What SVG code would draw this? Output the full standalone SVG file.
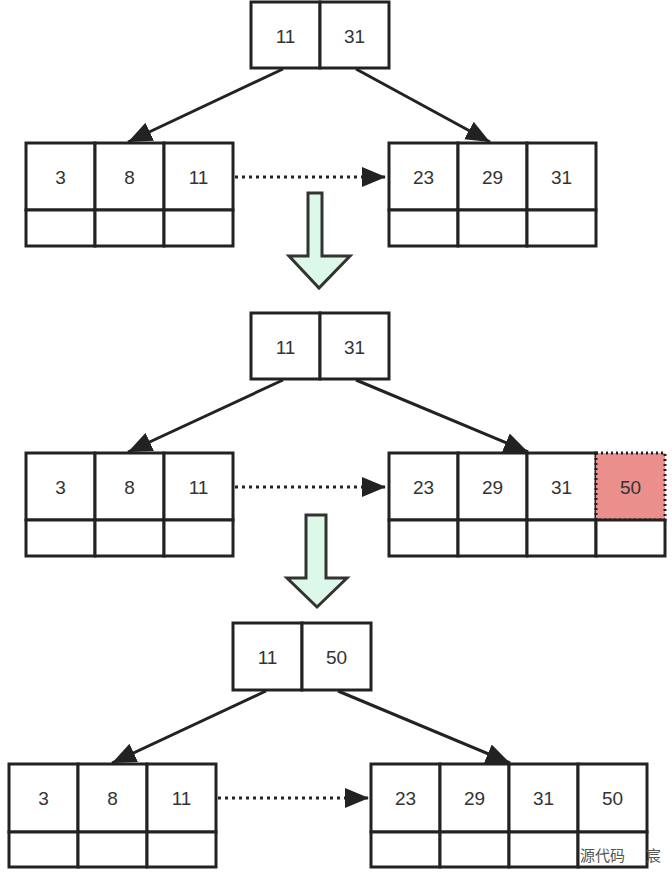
<svg xmlns="http://www.w3.org/2000/svg" width="672" height="874" viewBox="0 0 672 874">
<defs>
<style>
.c{fill:#fff;stroke:#222;stroke-width:3}
.t{font-family:"Liberation Sans",Arial,sans-serif;font-size:19px;fill:#333;text-anchor:middle;dominant-baseline:central}
.e{stroke:#222;stroke-width:3;fill:none}
.d{stroke:#222;stroke-width:3;stroke-dasharray:3 4;fill:none}
.g{fill:#dcf8e8;stroke:#333;stroke-width:3;stroke-linejoin:miter}
</style>
<marker id="a" markerWidth="10" markerHeight="10" refX="9" refY="5" orient="auto" markerUnits="userSpaceOnUse" viewBox="0 0 10 10"><path d="M0,0 L10,5 L0,10 z" fill="#222"/></marker>
<marker id="b" markerWidth="24" markerHeight="20" refX="24" refY="10" orient="auto" markerUnits="userSpaceOnUse"><path d="M0,0 L24,10 L0,20 z" fill="#222"/></marker>
</defs>
<rect width="672" height="874" fill="#fff"/>
<g id="root1"><rect class="c" x="251" y="2" width="69" height="66"/><rect class="c" x="320" y="2" width="69" height="66"/><text class="t" x="285.5" y="36">11</text><text class="t" x="354.5" y="36">31</text></g>
<g id="leafL1"><rect class="c" x="26" y="143" width="69" height="67"/><rect class="c" x="95" y="143" width="69" height="67"/><rect class="c" x="164" y="143" width="69" height="67"/><rect class="c" x="26" y="210" width="69" height="36"/><rect class="c" x="95" y="210" width="69" height="36"/><rect class="c" x="164" y="210" width="69" height="36"/><text class="t" x="60.5" y="177">3</text><text class="t" x="129.5" y="177">8</text><text class="t" x="198.5" y="177">11</text></g>
<g id="leafR1"><rect class="c" x="389" y="143" width="69" height="67"/><rect class="c" x="458" y="143" width="69" height="67"/><rect class="c" x="527" y="143" width="69" height="67"/><rect class="c" x="389" y="210" width="69" height="36"/><rect class="c" x="458" y="210" width="69" height="36"/><rect class="c" x="527" y="210" width="69" height="36"/><text class="t" x="423.5" y="177">23</text><text class="t" x="492.5" y="177">29</text><text class="t" x="561.5" y="177">31</text></g>
<g id="root2"><rect class="c" x="251" y="313" width="69" height="66"/><rect class="c" x="320" y="313" width="69" height="66"/><text class="t" x="285.5" y="347">11</text><text class="t" x="354.5" y="347">31</text></g>
<g id="leafL2"><rect class="c" x="26" y="453" width="69" height="67"/><rect class="c" x="95" y="453" width="69" height="67"/><rect class="c" x="164" y="453" width="69" height="67"/><rect class="c" x="26" y="520" width="69" height="36"/><rect class="c" x="95" y="520" width="69" height="36"/><rect class="c" x="164" y="520" width="69" height="36"/><text class="t" x="60.5" y="487">3</text><text class="t" x="129.5" y="487">8</text><text class="t" x="198.5" y="487">11</text></g>
<g id="leafR2"><rect class="c" x="389" y="453" width="69" height="67"/><rect class="c" x="458" y="453" width="69" height="67"/><rect class="c" x="527" y="453" width="69" height="67"/><rect x="596" y="453" width="69" height="67" fill="#ea8f8c" stroke="#222" stroke-width="3" stroke-dasharray="2 3"/><rect class="c" x="389" y="520" width="69" height="36"/><rect class="c" x="458" y="520" width="69" height="36"/><rect class="c" x="527" y="520" width="69" height="36"/><rect class="c" x="596" y="520" width="69" height="36"/><text class="t" x="423.5" y="487">23</text><text class="t" x="492.5" y="487">29</text><text class="t" x="561.5" y="487">31</text><text class="t" x="630.5" y="487">50</text></g>
<g id="root3"><rect class="c" x="233" y="623" width="69" height="67"/><rect class="c" x="302" y="623" width="69" height="67"/><text class="t" x="267.5" y="657">11</text><text class="t" x="336.5" y="657">50</text></g>
<g id="leafL3"><rect class="c" x="9" y="764" width="69" height="68"/><rect class="c" x="78" y="764" width="69" height="68"/><rect class="c" x="147" y="764" width="69" height="68"/><rect class="c" x="9" y="832" width="69" height="35"/><rect class="c" x="78" y="832" width="69" height="35"/><rect class="c" x="147" y="832" width="69" height="35"/><text class="t" x="43.5" y="798">3</text><text class="t" x="112.5" y="798">8</text><text class="t" x="181.5" y="798">11</text></g>
<g id="leafR3"><rect class="c" x="371" y="764" width="69" height="68"/><rect class="c" x="440" y="764" width="69" height="68"/><rect class="c" x="509" y="764" width="69" height="68"/><rect class="c" x="578" y="764" width="69" height="68"/><rect class="c" x="371" y="832" width="69" height="35"/><rect class="c" x="440" y="832" width="69" height="35"/><rect class="c" x="509" y="832" width="69" height="35"/><rect class="c" x="578" y="832" width="69" height="35"/><text class="t" x="405.5" y="798">23</text><text class="t" x="474.5" y="798">29</text><text class="t" x="543.5" y="798">31</text><text class="t" x="612.5" y="798">50</text></g>
<g id="connectors">
<line class="e" x1="283" y1="69" x2="128" y2="142" marker-end="url(#b)"/>
<line class="e" x1="356" y1="69" x2="490" y2="142" marker-end="url(#b)"/>
<line class="d" x1="235" y1="177" x2="386" y2="177" marker-end="url(#b)"/>
<line class="e" x1="283" y1="380" x2="128" y2="452" marker-end="url(#b)"/>
<line class="e" x1="356" y1="380" x2="528" y2="452" marker-end="url(#b)"/>
<line class="d" x1="235" y1="487" x2="386" y2="487" marker-end="url(#b)"/>
<line class="e" x1="266" y1="691" x2="112" y2="763" marker-end="url(#b)"/>
<line class="e" x1="338" y1="691" x2="510" y2="763" marker-end="url(#b)"/>
<line class="d" x1="218" y1="798" x2="369" y2="798" marker-end="url(#b)"/>
</g>
<g id="step1"><path class="g" d="M308,193 H322 V256 H350 L319,288 L289,256 H308 Z"/></g>
<g id="step2"><path class="g" d="M306,515 H326 V578 H347 L317,607 L287,578 H306 Z"/></g>
<text x="580" y="861" font-family="'Noto Sans CJK SC',sans-serif" font-size="15" fill="#555">源代码</text>
<text x="646" y="861" font-family="'Noto Sans CJK SC',sans-serif" font-size="15" fill="#555">宸</text>
</svg>
